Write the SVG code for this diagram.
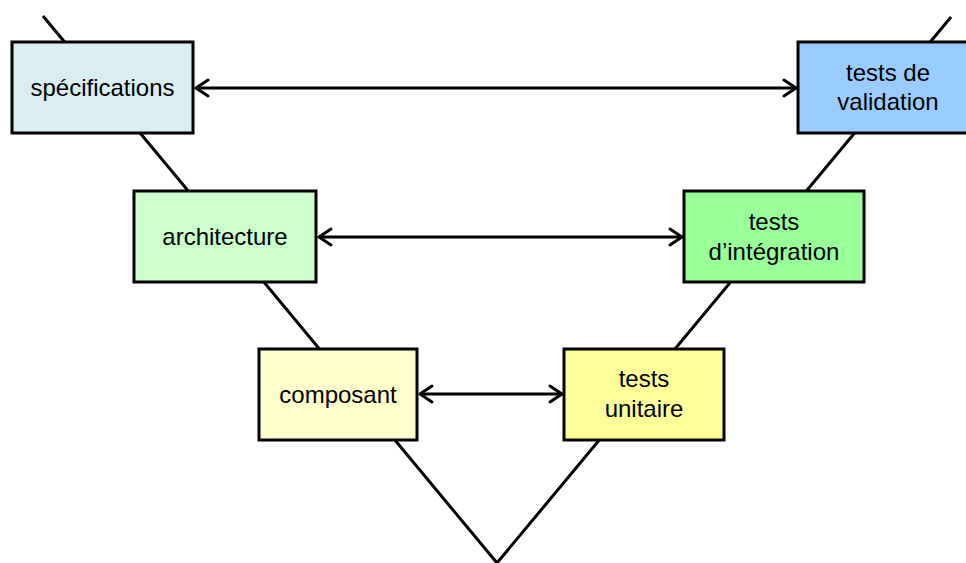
<svg xmlns="http://www.w3.org/2000/svg" width="966" height="563" viewBox="0 0 966 563">
  <style>
    .box { stroke: #000; stroke-width: 3; }
    .lbl { font-family: "Liberation Sans", Arial, sans-serif; font-size: 24px; fill: #000; text-anchor: middle; }
    .vee { fill: none; stroke: #000; stroke-width: 3; }
    .link { fill: none; stroke: #000; stroke-width: 3; marker-start: url(#chev); marker-end: url(#chev); }
  </style>
  <defs>
    <marker id="chev" markerUnits="userSpaceOnUse" viewBox="-16 -11 19 22" markerWidth="19" markerHeight="22" refX="0" refY="0" orient="auto-start-reverse">
      <path d="M-12,-8 L0,0 L-12,8" fill="none" stroke="#000" stroke-width="3" stroke-linejoin="round" stroke-linecap="round"/>
    </marker>
  </defs>
  <rect width="966" height="563" fill="#fff"/>

  <!-- V-shaped backbone of the cycle -->
  <polyline class="vee" points="43,16 497,563 951,17"/>

  <!-- horizontal correspondences -->
  <g id="connectors">
    <line class="link" x1="196" y1="88" x2="796" y2="88"/>
    <line class="link" x1="319" y1="237" x2="682" y2="237"/>
    <line class="link" x1="420" y1="394" x2="562" y2="394"/>
  </g>

  <g id="specifications">
    <rect class="box" x="12" y="42" width="181" height="91" fill="#DAEDF0"/>
    <text class="lbl" x="102.5" y="96">spécifications</text>
  </g>
  <g id="architecture">
    <rect class="box" x="134" y="191" width="182" height="91" fill="#CCFFCC"/>
    <text class="lbl" x="225" y="245">architecture</text>
  </g>
  <g id="composant">
    <rect class="box" x="259" y="349" width="158" height="91" fill="#FFFFCC"/>
    <text class="lbl" x="338" y="403">composant</text>
  </g>
  <g id="tests-validation">
    <rect class="box" x="798" y="42" width="181" height="91" fill="#99CCFF"/>
    <text class="lbl" x="888" y="81">tests de</text>
    <text class="lbl" x="888" y="110">validation</text>
  </g>
  <g id="tests-integration">
    <rect class="box" x="684" y="191" width="180" height="91" fill="#99FF99"/>
    <text class="lbl" x="774" y="230">tests</text>
    <text class="lbl" x="774" y="260">d’intégration</text>
  </g>
  <g id="tests-unitaire">
    <rect class="box" x="564" y="349" width="160" height="91" fill="#FFFF99"/>
    <text class="lbl" x="644" y="387">tests</text>
    <text class="lbl" x="644" y="417">unitaire</text>
  </g>
</svg>
